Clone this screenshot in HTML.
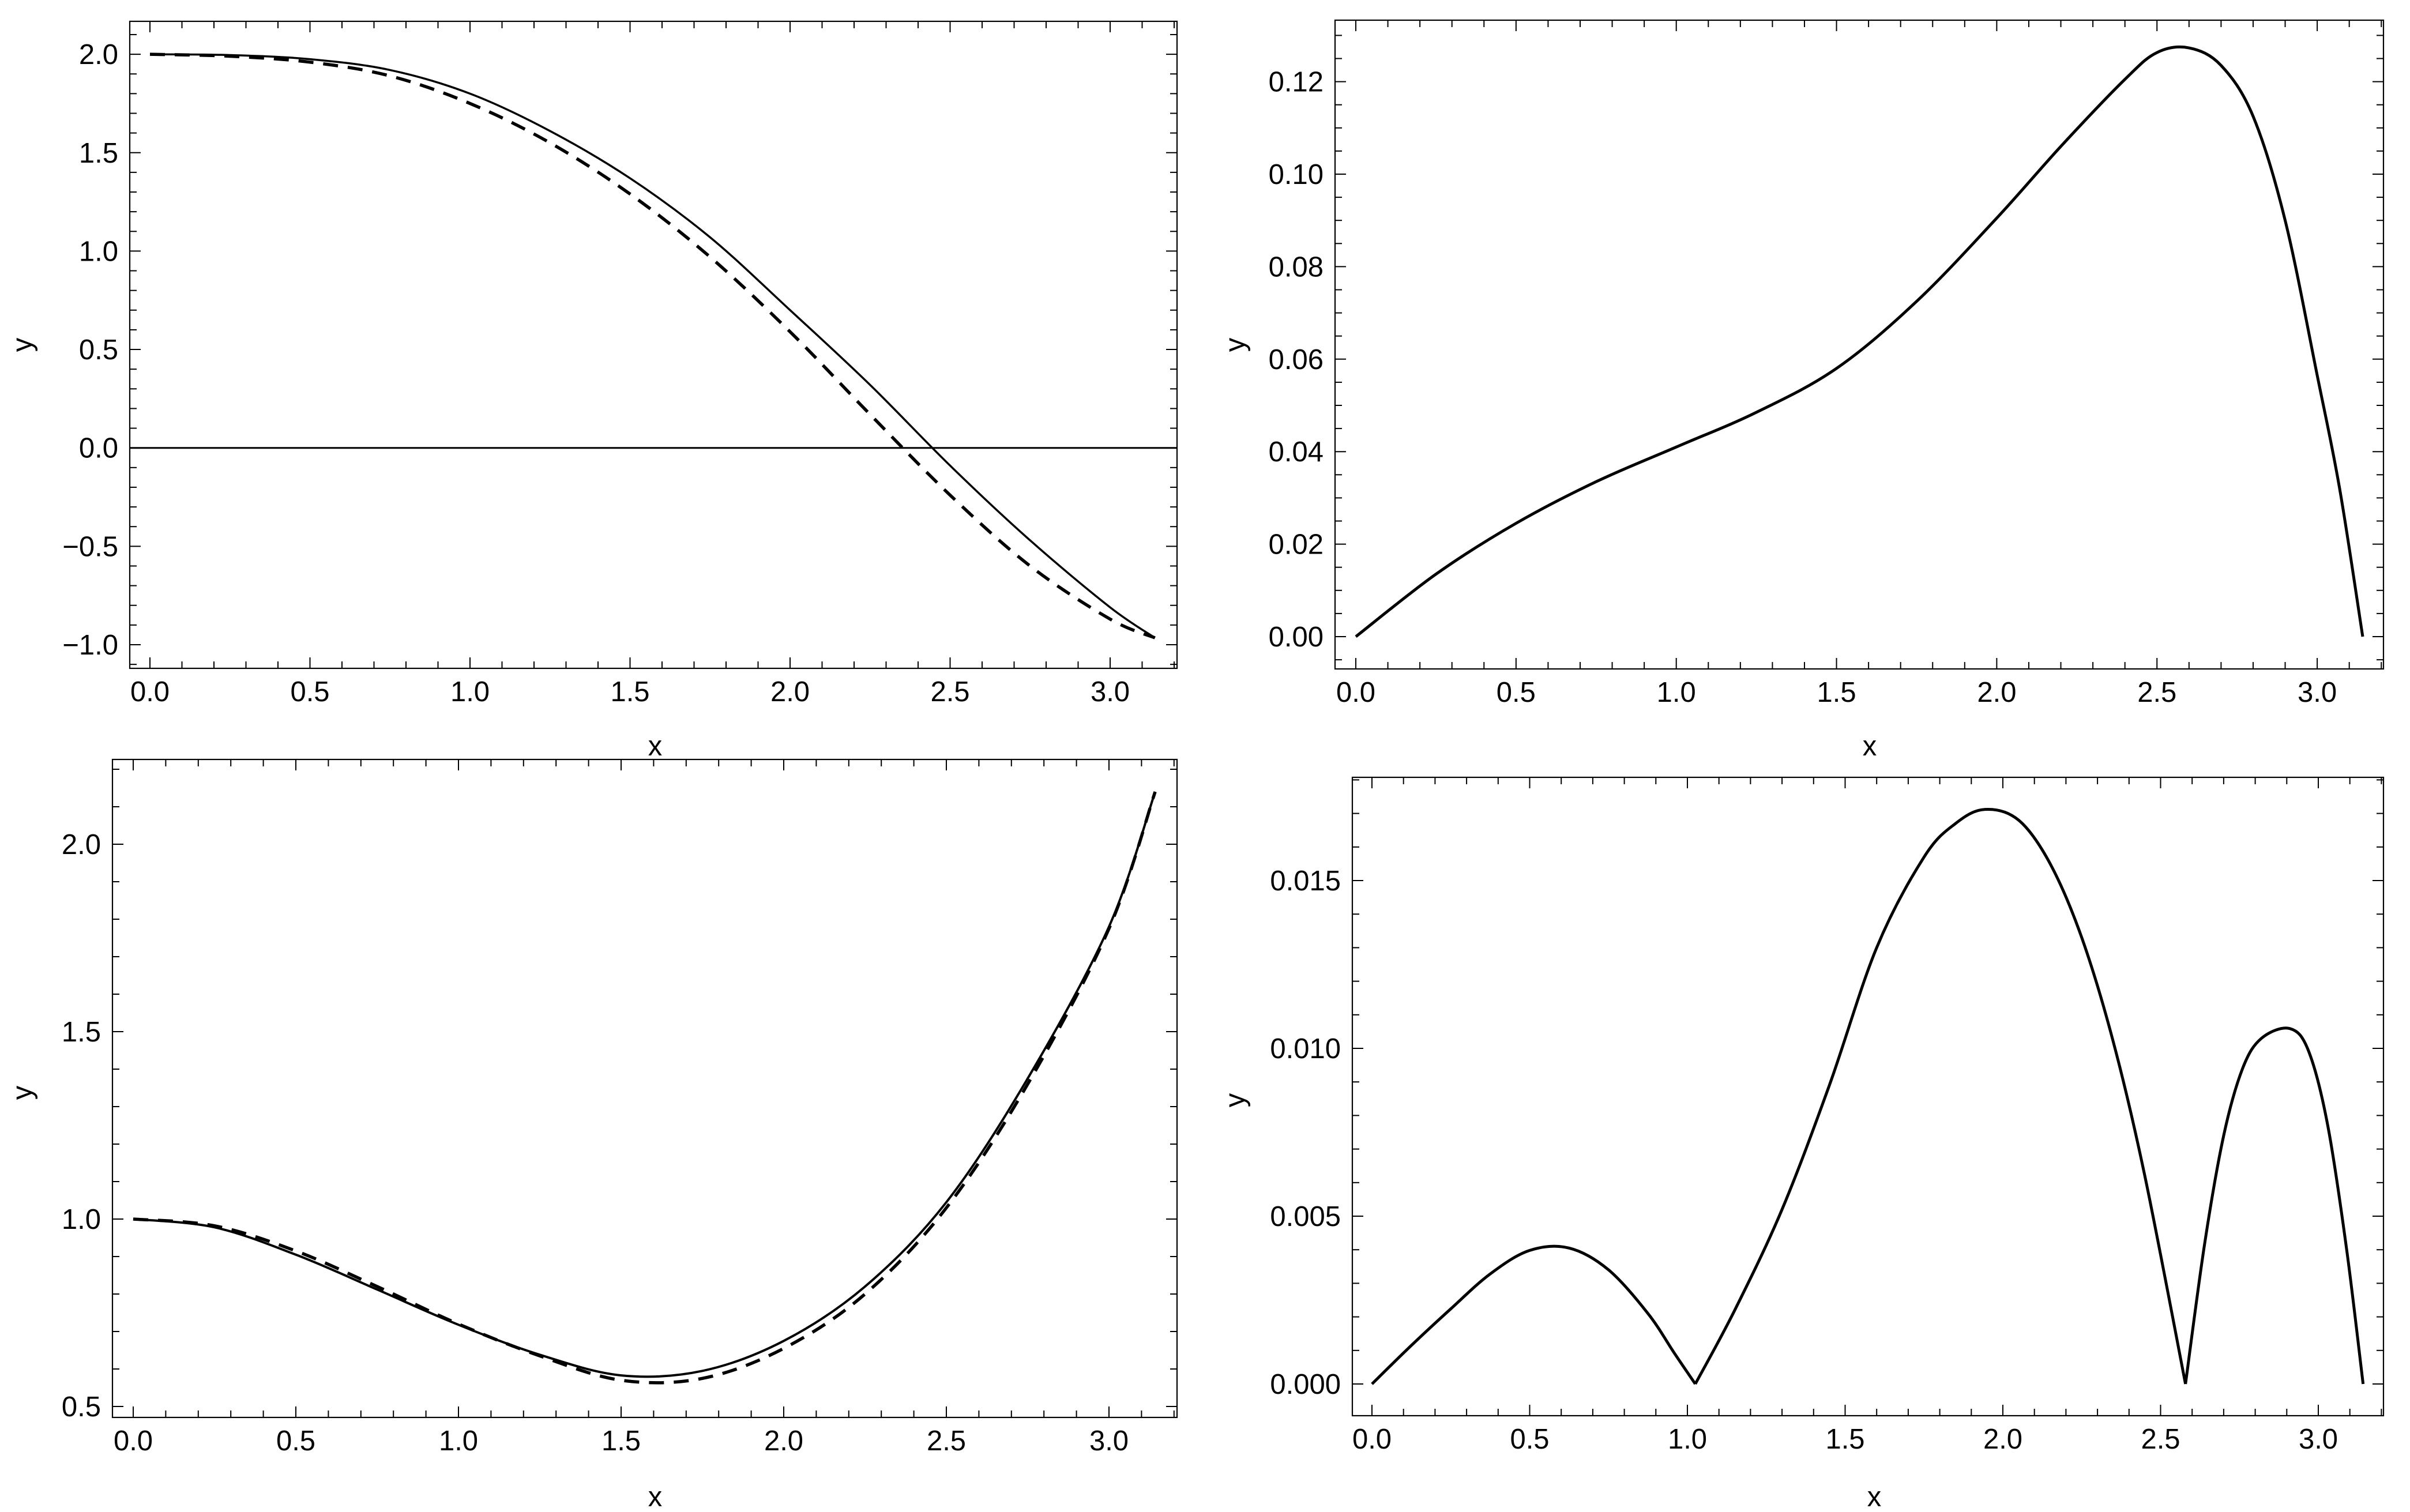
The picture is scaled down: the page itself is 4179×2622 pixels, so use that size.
<!DOCTYPE html>
<html><head><meta charset="utf-8"><style>
html,body{margin:0;padding:0;background:#fff;}
svg{display:block;}
text{font-family:"Liberation Sans",sans-serif;fill:#000;}
</style></head><body>
<svg id="fig" width="4179" height="2622" viewBox="0 0 4179 2622" xmlns="http://www.w3.org/2000/svg"></svg>
<script>
// ---- data: top-left panel ----
const tlX = [0, 0.25, 0.5, 0.75, 1.0, 1.25, 1.5, 1.75, 2.0, 2.25, 2.5, 2.75, 3.0, 3.14];
const tlSolid = [2.0, 1.996, 1.975, 1.92, 1.80, 1.61, 1.37, 1.07, 0.70, 0.32, -0.09, -0.47, -0.81, -0.965];
const tlDashX = [0, 0.25, 0.5, 0.75, 1.0, 1.25, 1.5, 1.75, 2.0, 2.25, 2.5, 2.75, 3.0, 3.14];
const tlDashed = [2.0, 1.99, 1.96, 1.89, 1.75, 1.55, 1.29, 0.97, 0.59, 0.17, -0.24, -0.60, -0.87, -0.965];
const tlXTicks = ["0.0","0.5","1.0","1.5","2.0","2.5","3.0"];
const tlYTicks = ["-1.0","-0.5","0.0","0.5","1.0","1.5","2.0"];
// ---- data: top-right panel ----
const trX = [0, 0.25, 0.5, 0.75, 1.0, 1.25, 1.5, 1.75, 2.0, 2.2, 2.4, 2.5, 2.6, 2.7, 2.8, 2.9, 3.0, 3.07, 3.142];
const trY = [0, 0.0135, 0.0245, 0.0335, 0.041, 0.0485, 0.058, 0.0725, 0.0905, 0.106, 0.1205, 0.1263, 0.1273, 0.1235, 0.1125, 0.090, 0.0565, 0.032, 0];
const trXTicks = ["0.0","0.5","1.0","1.5","2.0","2.5","3.0"];
const trYTicks = ["0.00","0.02","0.04","0.06","0.08","0.10","0.12"];
// ---- data: bottom-left panel ----
const blX = [0, 0.25, 0.5, 0.75, 1.0, 1.25, 1.5, 1.75, 2.0, 2.25, 2.5, 2.75, 3.0, 3.142];
const blSolid = [1.0, 0.978, 0.905, 0.812, 0.718, 0.638, 0.583, 0.595, 0.675, 0.82, 1.045, 1.375, 1.78, 2.14];
const blDashX = [0, 0.25, 0.5, 0.75, 1.0, 1.25, 1.5, 1.75, 2.0, 2.25, 2.5, 2.75, 3.0, 3.142];
const blDashed = [1.0, 0.982, 0.915, 0.82, 0.72, 0.635, 0.57, 0.575, 0.655, 0.80, 1.03, 1.36, 1.775, 2.14];
const blXTicks = ["0.0","0.5","1.0","1.5","2.0","2.5","3.0"];
const blYTicks = ["0.5","1.0","1.5","2.0"];
// ---- data: bottom-right panel ----
const brX = [0, 0.125, 0.25, 0.375, 0.5, 0.625, 0.75, 0.875, 0.96, 1.025,
  1.15, 1.3, 1.45, 1.6, 1.75, 1.85, 1.943, 2.05, 2.15, 2.25, 2.35, 2.45, 2.579,
  2.64, 2.7, 2.76, 2.82, 2.91, 2.97, 3.03, 3.09, 3.142];
const brY = [0, 0.00115, 0.00224, 0.00328, 0.00398, 0.00405, 0.0034, 0.0021, 0.0009, 0,
  0.0022, 0.0052, 0.0089, 0.013, 0.0157, 0.0167, 0.01712, 0.0168, 0.0155, 0.0133, 0.0102, 0.0062, 0,
  0.0042, 0.0074, 0.0094, 0.0103, 0.01059, 0.0099, 0.0077, 0.004, 0];
const brXTicks = ["0.0","0.5","1.0","1.5","2.0","2.5","3.0"];
const brYTicks = ["0.000","0.005","0.010","0.015"];

const NS = "http://www.w3.org/2000/svg";
const svg = document.getElementById('fig');
function el(tag, attrs, parent){
  const e = document.createElementNS(NS, tag);
  for (const k in attrs) e.setAttribute(k, attrs[k]);
  (parent||svg).appendChild(e);
  return e;
}
function smoothPath(pts){
  if (pts.length < 2) return "";
  let d = "M" + pts[0][0].toFixed(1) + "," + pts[0][1].toFixed(1);
  for (let i = 0; i < pts.length - 1; i++){
    const p0 = pts[i-1] || pts[i], p1 = pts[i], p2 = pts[i+1], p3 = pts[i+2] || pts[i+1];
    const c1x = p1[0] + (p2[0]-p0[0])/6, c1y = p1[1] + (p2[1]-p0[1])/6;
    const c2x = p2[0] - (p3[0]-p1[0])/6, c2y = p2[1] - (p3[1]-p1[1])/6;
    d += " C" + c1x.toFixed(1) + "," + c1y.toFixed(1) + " " + c2x.toFixed(1) + "," + c2y.toFixed(1) + " " + p2[0].toFixed(1) + "," + p2[1].toFixed(1);
  }
  return d;
}
function panel(cfg){
  const g = el('g', {});
  
  
  const sx = v => cfg.x0px + (v) * cfg.xPer;
  const sy = v => cfg.y0px - (v - cfg.yRef) * cfg.yPer;
  const L = cfg.left, R = cfg.right, T = cfg.top, B = cfg.bottom;
  const frame = el('rect', {x:L, y:T, width:R-L, height:B-T, fill:'none', stroke:'#000', 'stroke-width':2.2}, g);
  
  
  for (let k = -1; k <= 33; k++){
    const v = k/10; const px = sx(v);
    if (px < L+1 || px > R-1) continue;
    const major = (k % 5 === 0);
    const len = major ? 19 : 12;
    el('line', {x1:px, y1:B, x2:px, y2:B-len, stroke:'#000', 'stroke-width':2}, g);
    el('line', {x1:px, y1:T, x2:px, y2:T+len, stroke:'#000', 'stroke-width':2}, g);
  }
  cfg.xTicks.forEach(lab => {
    const t = el('text', {x:sx(parseFloat(lab)), y:B+57, 'font-size':49, 'text-anchor':'middle'}, g);
    t.textContent = lab;
    
    
  });
  const nMin = Math.ceil(cfg.yMin / cfg.yMinor) - 1, nMax = Math.floor(cfg.yMax / cfg.yMinor) + 1;
  for (let k = nMin; k <= nMax; k++){
    const v = k*cfg.yMinor; const py = sy(v);
    if (py < T+1 || py > B-1) continue;
    const major = Math.abs(v/cfg.yMajor - Math.round(v/cfg.yMajor)) < 1e-6;
    const len = major ? 19 : 12;
    el('line', {x1:L, y1:py, x2:L+len, y2:py, stroke:'#000', 'stroke-width':2}, g);
    el('line', {x1:R, y1:py, x2:R-len, y2:py, stroke:'#000', 'stroke-width':2}, g);
  }
  cfg.yTicks.forEach(lab => {
    const t = el('text', {x:L-20, y:sy(parseFloat(lab))+17, 'font-size':49, 'text-anchor':'end'}, g);
    t.textContent = lab.replace('-', '\u2212');
    
    
  });
  const xt = el('text', {x:cfg.xTitle[0], y:cfg.xTitle[1], 'font-size':49, 'text-anchor':'middle'}, g);
  xt.textContent = 'x';
  
  
  const yt = el('text', {x:0, y:0, 'font-size':49, 'text-anchor':'middle', transform:'translate('+cfg.yTitle[0]+','+cfg.yTitle[1]+') rotate(-90)'}, g);
  yt.textContent = 'y';
  
  
  return {g, sx, sy};
}
function drawSeries(p, xs, ys, opts, name, splitAtZero){
  let runs = [[]];
  for (let i = 0; i < xs.length; i++){
    runs[runs.length-1].push([p.sx(xs[i]), p.sy(ys[i])]);
    if (splitAtZero && ys[i] === 0 && i > 0 && i < xs.length-1) runs.push([[p.sx(xs[i]), p.sy(ys[i])]]);
  }
  const d = runs.map(smoothPath).join(' ');
  const path = el('path', Object.assign({d:d, fill:'none', stroke:'#000', 'stroke-linejoin':'round'}, opts), p.g);
  
  
}

const pTL = panel({name:'panel-top-left', left:225, right:2041, top:37, bottom:1159, x0px:260, xPer:555, y0px:1118, yRef:-1.0, yPer:341.3,
  yMin:-1.12, yMax:2.17, yMinor:0.1, yMajor:0.5, xTicks:tlXTicks, yTicks:tlYTicks, xTitle:[1136,1310], yTitle:[55,598]});
const zl = el('line', {x1:225, y1:pTL.sy(0), x2:2041, y2:pTL.sy(0), stroke:'#000', 'stroke-width':3}, pTL.g);


drawSeries(pTL, tlX, tlSolid, {'stroke-width':3.5}, 'solid-curve', false);
drawSeries(pTL, tlDashX, tlDashed, {'stroke-width':5.5, 'stroke-dasharray':'26 17'}, 'dashed-curve', false);

const pTR = panel({name:'panel-top-right', left:2315, right:4133, top:35, bottom:1160, x0px:2351, xPer:555.7, y0px:1104, yRef:0, yPer:8020,
  yMin:-0.007, yMax:0.134, yMinor:0.005, yMajor:0.02, xTicks:trXTicks, yTicks:trYTicks, xTitle:[3242,1310], yTitle:[2158,598]});
drawSeries(pTR, trX, trY, {'stroke-width':5}, 'solid-curve', false);

const pBL = panel({name:'panel-bottom-left', left:195, right:2041, top:1317, bottom:2458, x0px:231, xPer:564, y0px:2439, yRef:0.5, yPer:650,
  yMin:0.47, yMax:2.23, yMinor:0.1, yMajor:0.5, xTicks:blXTicks, yTicks:blYTicks, xTitle:[1136,2612], yTitle:[55,1895]});
drawSeries(pBL, blX, blSolid, {'stroke-width':4}, 'solid-curve', false);
drawSeries(pBL, blDashX, blDashed, {'stroke-width':5.5, 'stroke-dasharray':'26 17'}, 'dashed-curve', false);

const pBR = panel({name:'panel-bottom-right', left:2345, right:4133, top:1348, bottom:2455, x0px:2379, xPer:547, y0px:2400, yRef:0, yPer:58200,
  yMin:-0.001, yMax:0.0181, yMinor:0.001, yMajor:0.005, xTicks:brXTicks, yTicks:brYTicks, xTitle:[3250,2612], yTitle:[2158,1908]});
drawSeries(pBR, brX, brY, {'stroke-width':5}, 'solid-curve', true);
</script>
</body></html>
